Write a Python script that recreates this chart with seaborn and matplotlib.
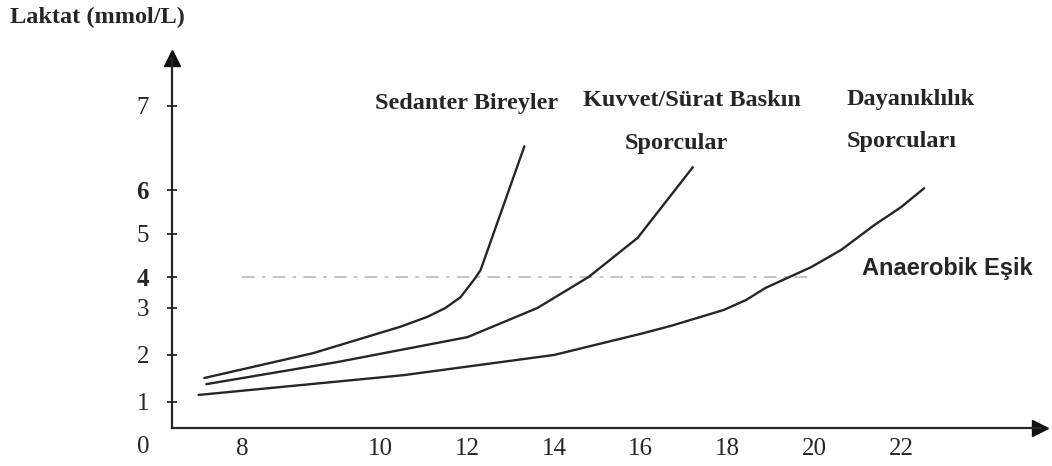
#%%
import numpy as np
import pandas as pd
import seaborn as sns
import matplotlib.pyplot as plt

sns.set_style('white')
plt.rcParams['font.family'] = ['Liberation Serif', 'DejaVu Serif']

#%% data: speed (km/h) vs blood lactate (mmol/L)
sedanter_speed = [7.46, 9.03, 10.46, 11.08, 11.50, 11.85, 12.19, 12.31, 13.32]
sedanter_lactate = [1.51, 2.04, 2.60, 2.81, 3.00, 3.35, 3.97, 4.16, 6.52]

kuvvet_speed = [7.49, 9.38, 12.01, 13.62, 14.80, 15.93, 17.20]
kuvvet_lactate = [1.38, 1.85, 2.38, 3.00, 4.00, 4.91, 6.27]

dayan_speed = [7.38, 10.53, 14.00, 16.00, 16.70, 17.92, 18.43, 18.88, 19.93, 20.62, 21.38, 22.00, 22.53]
dayan_lactate = [1.15, 1.57, 2.00, 2.45, 2.62, 2.96, 3.26, 3.65, 4.23, 4.63, 5.20, 5.61, 6.02]

threshold_lactate = 4
threshold_from, threshold_to = 8, 20

x_ticks = [8, 10, 12, 14, 16, 18, 20, 22]
y_ticks = [1, 2, 3, 4, 5, 6, 7]

groups = ['Sedanter Bireyler', 'Kuvvet/Sürat Baskın Sporcular', 'Dayanıklılık Sporcuları']

df = pd.concat([
    pd.DataFrame({'speed': s, 'lactate': l, 'group': g})
    for s, l, g in zip([sedanter_speed, kuvvet_speed, dayan_speed],
                       [sedanter_lactate, kuvvet_lactate, dayan_lactate], groups)
], ignore_index=True)

#%% the hand drawn axes are not evenly spaced -> piecewise scales
xk = [0, 7, 8, 10, 22, 40]
xp = [172 - 7 * 69, 172, 242, 380, 900, 900 + 18 * 43.33]
yk = [-2, 0, 1, 2, 3, 4, 5, 6, 7, 9]
yp = [-52, 0, 26, 73, 120, 151, 194, 238, 322, 490]

fwd_x = lambda v: np.interp(v, xk, xp)
inv_x = lambda p: np.interp(p, xp, xk)
fwd_y = lambda v: np.interp(v, yk, yp)
inv_y = lambda p: np.interp(p, yp, yk)

W, H = 1052, 466
fig = plt.figure(figsize=(W / 100, H / 100), dpi=100)
ax = fig.add_axes([172 / W, (H - 428) / H, (1040 - 172) / W, (428 - 58) / H])
ax.set_xscale('function', functions=(fwd_x, inv_x))
ax.set_yscale('function', functions=(fwd_y, inv_y))

line_col = '#262626'
for g in groups:
    sns.lineplot(data=df[df['group'] == g], x='speed', y='lactate', sort=False,
                 estimator=None, color=line_col, lw=1.7, ax=ax, legend=False)

# anaerobic threshold
ax.hlines(threshold_lactate, threshold_from, threshold_to, color='0.75', lw=1.3,
          linestyles=(0, (7, 4, 2, 4)), zorder=0)

ax.set(xlim=(7, 25.2), ylim=(0, 7.57), xlabel='', ylabel='')
ax.set_xticks(x_ticks)
ax.set_yticks(y_ticks)
ax.set_xticklabels([str(t) for t in x_ticks])
ax.set_yticklabels([str(t) for t in y_ticks])
ax.minorticks_off()
ax.tick_params(axis='x', bottom=False, length=0, pad=7, labelsize=18, colors='#262626')
ax.tick_params(axis='y', left=True, direction='inout', length=7, width=1.3, pad=13,
               labelsize=18, colors='#262626')
for t in ax.get_yticklabels():
    if t.get_text() in ('4', '6'):
        t.set_fontweight('bold')

sns.despine(ax=ax)
for s in ['left', 'bottom']:
    ax.spines[s].set_linewidth(1.6)
    ax.spines[s].set_color('#262626')

# arrow heads at the axis ends
ax.plot(0, 1, marker='^', ms=12, color='#111111', transform=ax.transAxes, clip_on=False)
ax.plot(1, 0, marker='>', ms=12, color='#111111', transform=ax.transAxes, clip_on=False)

#%% texts
px = lambda x, y: (x / W, 1 - y / H)
bold = dict(fontweight='bold', fontsize=17.5, color='#262626', va='center', ha='left')
fig.text(*px(10, 17), 'Laktat (mmol/L)', **bold)
fig.text(*px(375, 103), 'Sedanter Bireyler', **bold)
fig.text(*px(583, 101), 'Kuvvet/Sürat Baskın', **bold)
fig.text(*px(625, 143), 'Sporcular', **bold)
fig.text(*px(847, 100), 'Dayanıklılık', **bold)
fig.text(*px(847, 142), 'Sporcuları', **bold)
fig.text(*px(862, 268), 'Anaerobik Eşik', fontweight='bold', fontsize=17, color='#262626',
         va='center', ha='left', family=['Liberation Sans', 'DejaVu Sans'])
fig.text(*px(143, 447), '0', fontsize=18, color='#262626', va='center', ha='center')

fig.savefig('out.png', dpi=100, facecolor='white')
